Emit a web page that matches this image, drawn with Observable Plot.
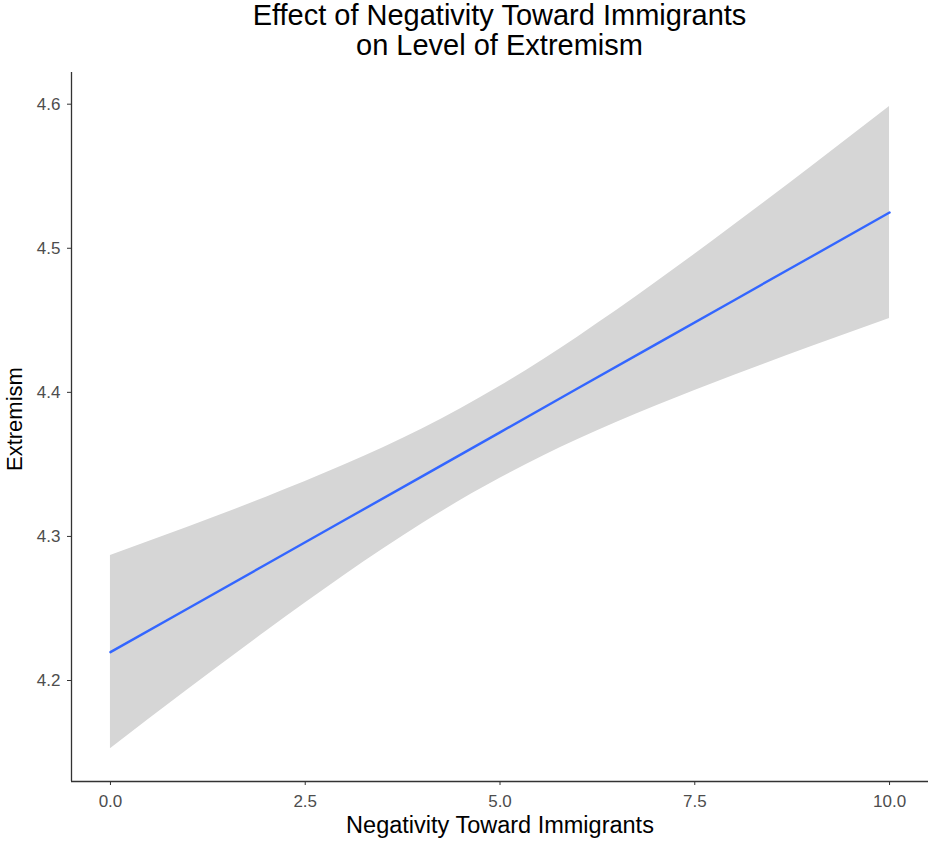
<!DOCTYPE html>
<html>
<head>
<meta charset="utf-8">
<script src="https://cdn.jsdelivr.net/npm/d3@7"></script>
<script src="https://cdn.jsdelivr.net/npm/@observablehq/plot@0.6"></script>
<style>
  html, body { margin: 0; padding: 0; background: #fff; }
  #title {
    font-family: "Liberation Sans", Arial, sans-serif;
    font-size: 29px; line-height: 30px; color: #000;
    text-align: center; padding-left: 71px; height: 66px;
    box-sizing: border-box; padding-top: 0px; width: 928px;
  }
  #chart svg [aria-label="x-axis tick label"], #chart svg [aria-label="y-axis tick label"] { fill: #4d4d4d; }
  #chart svg [aria-label="x-axis tick"], #chart svg [aria-label="y-axis tick"] { stroke: #333; }
</style>
</head>
<body>
<div id="title">Effect of Negativity Toward Immigrants<br>on Level of Extremism</div>
<div id="chart"></div>
<script>
// Values
const negativity = [0, 1, 2, 3, 4, 5, 6, 7, 8, 9, 10];
const fitted     = [4.2197, 4.2502, 4.2807, 4.3112, 4.3417, 4.3722, 4.4028, 4.4333, 4.4638, 4.4943, 4.5248];
const lower      = [4.1527, 4.1939, 4.2342, 4.2729, 4.3088, 4.3403, 4.3672, 4.3905, 4.4117, 4.4318, 4.4512];
const upper      = [4.2867, 4.3065, 4.3272, 4.3495, 4.3746, 4.4042, 4.4385, 4.4762, 4.5159, 4.5568, 4.5984];
const xTicks = [0, 2.5, 5, 7.5, 10];
const yTicks = [4.2, 4.3, 4.4, 4.5, 4.6];
const xLabel = "Negativity Toward Immigrants";
const yLabel = "Extremism";

const data = negativity.map((x, i) => ({x, fit: fitted[i], lo: lower[i], hi: upper[i]}));
const xDomain = [-0.5, 10.5];
const yDomain = [4.1299, 4.622];

const chart = Plot.plot({
  width: 928,
  height: 776,
  marginLeft: 71,
  marginRight: 0,
  marginTop: 6,
  marginBottom: 61,
  style: {fontFamily: "'Liberation Sans', Arial, sans-serif", fontSize: "17px", background: "#fff", overflow: "visible"},
  x: {domain: xDomain},
  y: {domain: yDomain},
  marks: [
    Plot.areaY(data, {x: "x", y1: "lo", y2: "hi", fill: "#d6d6d6", curve: "natural"}),
    Plot.lineY(data, {x: "x", y: "fit", stroke: "#3366ff", strokeWidth: 2.4}),
    Plot.axisX(xTicks, {tickFormat: d => d.toFixed(1), tickSize: 4, tickPadding: 9, label: null, fontSize: 17}),
    Plot.axisY(yTicks, {tickFormat: d => d.toFixed(1), tickSize: 4, tickPadding: 7, label: null, fontSize: 17}),
    Plot.ruleX([xDomain[0]], {stroke: "#333", strokeWidth: 1.3}),
    Plot.ruleY([yDomain[0]], {stroke: "#333", strokeWidth: 1.3}),
    Plot.text([xLabel], {text: d => d, frameAnchor: "bottom", dy: 51, fontSize: 23.5, fill: "#000"}),
    Plot.text([yLabel], {text: d => d, frameAnchor: "left", dx: -57, dy: 44, rotate: -90, fontSize: 22, fill: "#000"})
  ]
});
document.getElementById("chart").appendChild(chart);
</script>
</body>
</html>
